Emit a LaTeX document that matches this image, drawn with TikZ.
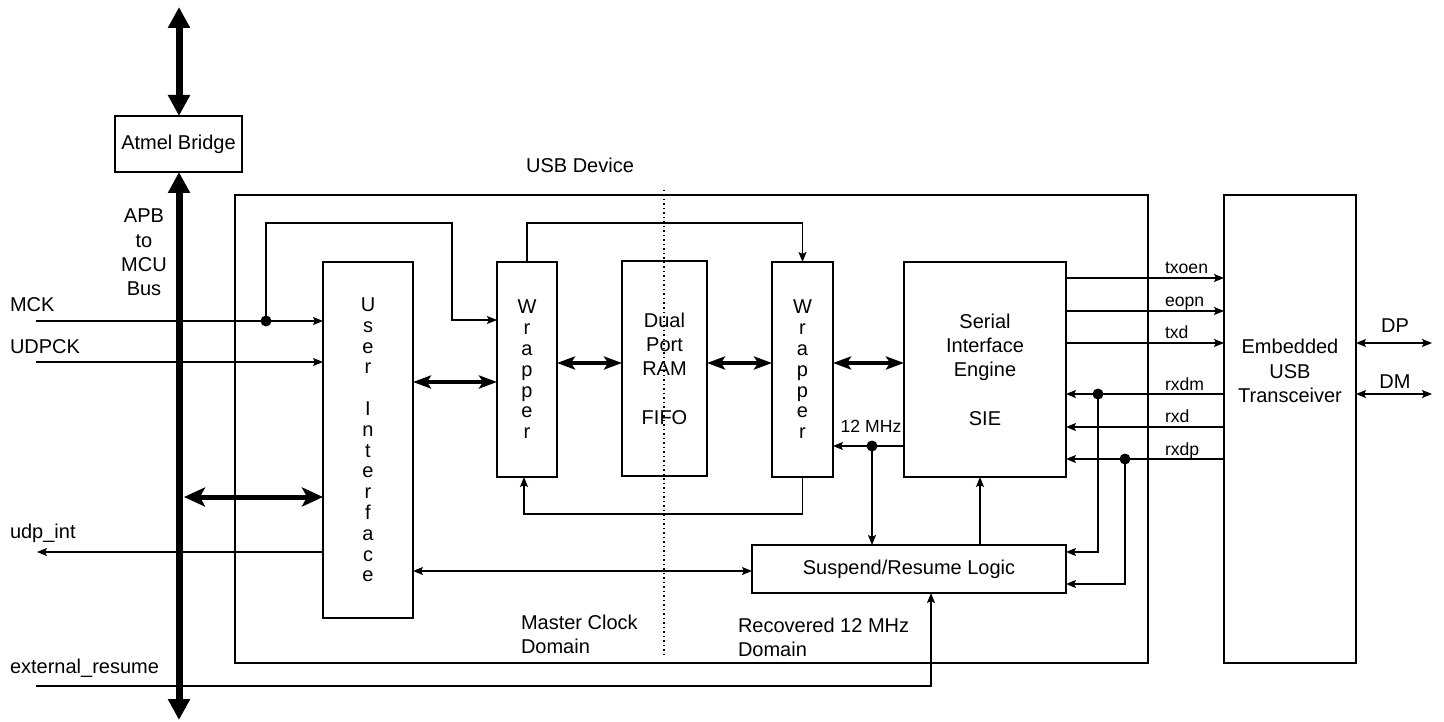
\documentclass[tikz,border=0pt]{standalone}
\usepackage{fontspec}
\setmainfont{Liberation Sans}
\usetikzlibrary{arrows.meta}
\begin{document}
\begin{tikzpicture}[x=1pt,y=-1pt,
  every node/.style={inner sep=0pt, outer sep=0pt},
  mfont/.style={font={\fontsize{20pt}{24.3pt}\selectfont}},
  sfont/.style={font={\fontsize{17.6pt}{20pt}\selectfont}},
  vfont/.style={font={\fontsize{20pt}{20.8pt}\selectfont}},
  blk/.style={draw, line width=2.5pt, align=center, mfont},
  sig/.style={line width=1.25pt},
  >={Stealth[length=10pt,width=8pt,inset=2pt]},
  midarrow/.style={line width=4pt, {Stealth[length=18pt,width=13pt,inset=4pt]}-{Stealth[length=18pt,width=13pt,inset=4pt]}},
  busline/.style={line width=7pt, {Triangle[length=21pt,width=21pt]}-{Triangle[length=21pt,width=21pt]}},
  busarrow/.style={line width=5pt, {Stealth[length=21pt,width=19pt,inset=5pt]}-{Stealth[length=21pt,width=19pt,inset=5pt]}},
  jdot/.style={fill=black}
]
\useasboundingbox (0,0) rectangle (1444,722);

% blocks
\node[blk, minimum width=127pt, minimum height=56pt] (bridge) at (178.5,144) {Atmel Bridge};
\node[blk, line width=2.2pt, minimum width=913pt, minimum height=468pt] (usb) at (691.5,429) {};
\node[blk, vfont, minimum width=90pt, minimum height=356pt] (ui) at (368,440) {U\\s\\e\\r\\[20.8pt]I\\n\\t\\e\\r\\f\\a\\c\\e};
\node[blk, vfont, minimum width=60pt, minimum height=215pt] (w1) at (527,369.5) {W\\r\\a\\p\\p\\e\\r};
\node[blk, minimum width=85pt, minimum height=215pt] (ram) at (664.5,368.5) {Dual\\Port\\RAM\\[24.3pt]FIFO};
\node[blk, vfont, minimum width=61pt, minimum height=215pt] (w2) at (802.5,369.5) {W\\r\\a\\p\\p\\e\\r};
\node[blk, minimum width=162pt, minimum height=215pt] (sie) at (985,369.5) {Serial\\Interface\\Engine\\[24.3pt]SIE};
\node[blk, minimum width=314pt, minimum height=48pt] (sr) at (909,569) {Suspend/Resume Logic};
\node[blk, minimum width=132pt, minimum height=468pt] (tr) at (1290,429) {};
\node[mfont, align=center] (trlbl) at (1290,371) {Embedded\\USB\\Transceiver};

% dotted domain boundary
\coordinate (dtop) at (664,190);
\coordinate (dbot) at (664,656);
\draw[line width=1.2pt, dash pattern=on 1.5pt off 3pt] (dtop) -- (dbot);

% texts
\node[mfont, anchor=base] (usblbl) at (580,173) {USB Device};
\node[mfont, align=center] (apb) at (144,252.5) {APB\\to\\MCU\\Bus};
\node[mfont, anchor=base west] (mcklbl) at (10,312) {MCK};
\node[mfont, anchor=base west] (udplbl) at (10,353) {UDPCK};
\node[mfont, anchor=base west] (intlbl) at (10,538) {udp\_int};
\node[mfont, anchor=base west] (extlbl) at (10,673) {external\_resume};
\node[mfont, anchor=west, align=left] (mcd) at (521,634) {Master Clock\\Domain};
\node[mfont, anchor=west, align=left] (rcd) at (738,637.5) {Recovered 12 MHz\\Domain};
\node[sfont, anchor=base] (mhz) at (871,432) {12 MHz};
\node[sfont, anchor=base west] (l1) at (1165,274) {txoen};
\node[sfont, anchor=base west] (l2) at (1165,306) {eopn};
\node[sfont, anchor=base west] (l3) at (1165,338) {txd};
\node[sfont, anchor=base west] (l4) at (1165,390) {rxdm};
\node[sfont, anchor=base west] (l5) at (1165,422) {rxd};
\node[sfont, anchor=base west] (l6) at (1165,455) {rxdp};
\node[mfont, anchor=base] (dplbl) at (1395,333) {DP};
\node[mfont, anchor=base] (dmlbl) at (1395,388) {DM};

% system bus
\coordinate (bustop) at (179,7);
\coordinate (busbot) at (179,720);
\draw[busline] (bustop) -- (bridge.north -| bustop);
\draw[busline] (bridge.south -| bustop) -- (busbot);
\coordinate (busui) at (184,497);
\draw[busarrow] (busui) -- (ui.west |- busui);

% clocks
\coordinate (mckin) at (36,321);
\coordinate (udpin) at (36,362);
\coordinate (mckdot) at (266,321);
\draw[sig,->] (mckin) -- (mckin -| ui.west);
\draw[sig,->] (udpin) -- (udpin -| ui.west);
\draw[sig,->] (mckdot) -- (266,223) -- (452,223) -- (452,320) -- (w1.west |- 0,320);
\fill[jdot] (mckdot) circle (5.5pt);

% interrupt and resume
\coordinate (intout) at (37,552);
\draw[sig,->] (ui.west |- intout) -- (intout);
\coordinate (extin) at (36,686);
\draw[sig,->] (extin) -| (sr.south -| 931,0);
\draw[sig,<->] (ui.east |- 0,571) -- (sr.west |- 0,571);

% wrapper loops
\draw[sig,->] (w1.north) -- ++(0,-39) -| (w2.north);
\draw[sig,->] (w2.south) -- ++(0,37) -| ([xshift=-3pt]w1.south);

% data paths
\draw[midarrow] (ui.east |- 0,382) -- (w1.west |- 0,382);
\draw[midarrow] (w1.east |- 0,363) -- (ram.west |- 0,363);
\draw[midarrow] (ram.east |- 0,363) -- (w2.west |- 0,363);
\draw[midarrow] (w2.east |- 0,363) -- (sie.west |- 0,363);

% 12 MHz
\coordinate (mhzdot) at (872,446);
\draw[sig,->] (sie.west |- mhzdot) -- (w2.east |- mhzdot);
\draw[sig,->] (mhzdot) -- (mhzdot |- sr.north);
\fill[jdot] (mhzdot) circle (5.5pt);
\draw[sig,->] (sr.north -| 980,0) -- (sie.south -| 980,0);

% SIE <-> transceiver
\draw[sig,->] (sie.east |- 0,278) -- (tr.west |- 0,278);
\draw[sig,->] (sie.east |- 0,311) -- (tr.west |- 0,311);
\draw[sig,->] (sie.east |- 0,343) -- (tr.west |- 0,343);
\draw[sig,->] (tr.west |- 0,394) -- (sie.east |- 0,394);
\draw[sig,->] (tr.west |- 0,427) -- (sie.east |- 0,427);
\draw[sig,->] (tr.west |- 0,459) -- (sie.east |- 0,459);
\coordinate (dmdot) at (1098,394);
\coordinate (dpdot) at (1125,459);
\draw[sig,->] (dmdot) |- (sr.east |- 0,552);
\draw[sig,->] (dpdot) |- (sr.east |- 0,584);
\fill[jdot] (dmdot) circle (5.5pt);
\fill[jdot] (dpdot) circle (5.5pt);

% USB lines
\coordinate (dpout) at (1432,343);
\coordinate (dmout) at (1432,394);
\draw[sig,<->] (tr.east |- dpout) -- (dpout);
\draw[sig,<->] (tr.east |- dmout) -- (dmout);
\end{tikzpicture}
\end{document}
